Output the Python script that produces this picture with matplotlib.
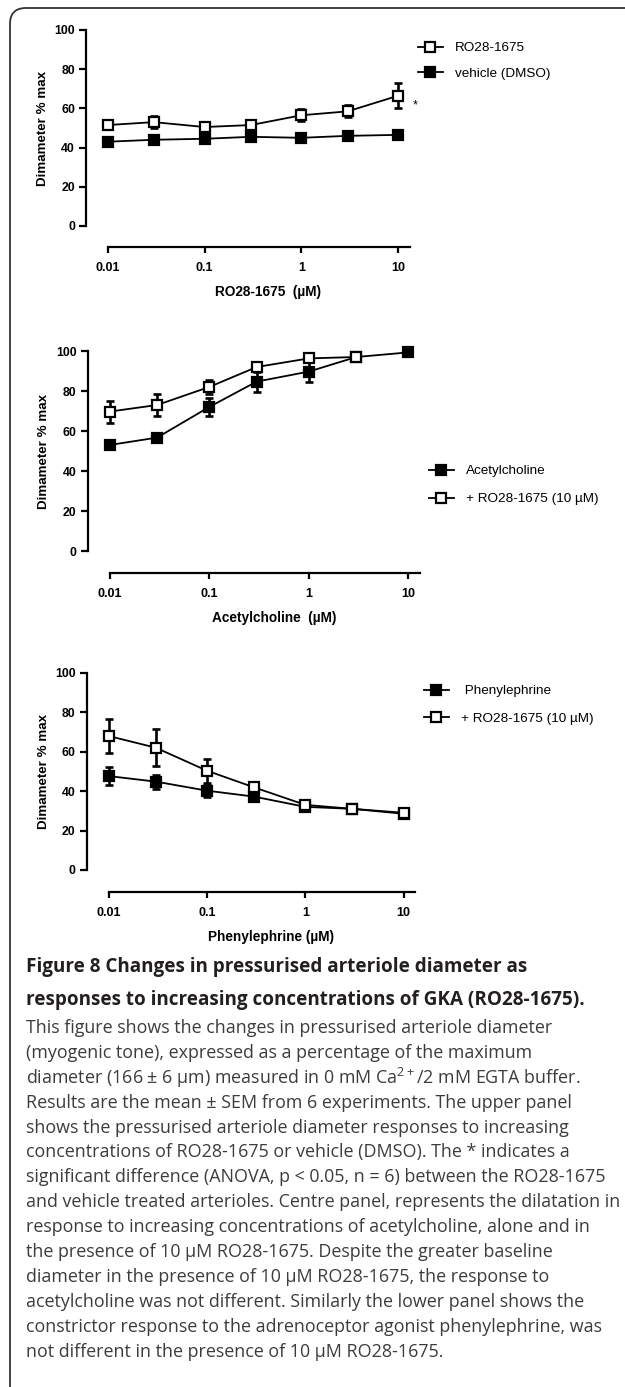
import numpy as np
import matplotlib
matplotlib.use("Agg")
from matplotlib import pyplot as plt
from matplotlib.path import Path
from matplotlib.patches import PathPatch

plt.rcParams['font.family'] = ['Liberation Sans', 'DejaVu Sans']
plt.rcParams['mathtext.fontset'] = 'custom'
plt.rcParams['mathtext.rm'] = 'Open Sans'

# concentrations (uM)
conc = [0.01, 0.03, 0.1, 0.3, 1, 3, 10]

# top panel: RO28-1675 vs vehicle
ro_mean = [51.5, 53, 50.5, 51.5, 56.5, 58.5, 66.5]
ro_sem = [1.5, 3, 2, 2, 3, 3, 6.5]
veh_mean = [43, 44, 44.5, 45.5, 45, 46, 46.5]
veh_sem = [1, 1, 1, 1, 1, 1, 2]

# centre panel: acetylcholine
ach_mean = [53, 56.7, 72, 84.7, 89.7, 97, 99.3]
ach_sem = [2, 1, 4.5, 5, 5, 1, 1]
ach_ro_conc = [0.01, 0.03, 0.1, 0.3, 1, 3]
ach_ro_mean = [69.7, 73, 82, 92, 96.3, 97]
ach_ro_sem = [5.5, 5.5, 3.5, 2, 1.5, 1]

# lower panel: phenylephrine
pe_mean = [47.6, 44.8, 40.2, 37.2, 32, 31, 28.5]
pe_sem = [4.5, 3.5, 3, 1.5, 1, 0.8, 0.8]
pe_ro_mean = [67.9, 62, 50.3, 41.9, 33, 31, 29]
pe_ro_sem = [8.4, 9.5, 6, 2, 1, 1, 1]

W, H = 625, 1387
fig = plt.figure(figsize=(W / 100, H / 100), dpi=100)


def px_axes(left, right, top, bottom):
    return fig.add_axes([left / W, 1 - bottom / H, (right - left) / W, (bottom - top) / H])


def series(ax, x, y, e, filled, label):
    ax.errorbar(x, y, yerr=e, fmt='none', ecolor='black', elinewidth=1.9,
                capsize=3, capthick=1.9, clip_on=False, zorder=3 if filled else 5)
    ln, = ax.plot(x, y, color='black', lw=1.3, marker='s', ms=6.5, mew=1.6,
                  mec='black', mfc='black' if filled else 'white',
                  clip_on=False, zorder=4 if filled else 6, label=label)
    return ln


def style(ax, xlabel, yoff, xoff, label_y):
    ax.set_xscale('log')
    ax.set_xlim(0.01, 10 ** 1.12)
    ax.set_ylim(0, 100)
    ax.set_yticks([0, 20, 40, 60, 80, 100])
    ax.set_xticks([0.01, 0.1, 1, 10])
    ax.set_xticklabels(['0.01', '0.1', '1', '10'])
    ax.minorticks_off()
    for s in ['top', 'right']:
        ax.spines[s].set_visible(False)
    ax.spines['left'].set_position(('outward', yoff))
    ax.spines['bottom'].set_position(('outward', xoff))
    ax.spines['left'].set_linewidth(1.6)
    ax.spines['bottom'].set_linewidth(1.6)
    ax.tick_params(axis='y', length=5, width=1.6, pad=3, labelsize=8.8)
    ax.tick_params(axis='x', length=4.3, width=1.6, pad=6.5, labelsize=9)
    for t in ax.get_xticklabels() + ax.get_yticklabels():
        t.set_fontweight('bold')
    ax.set_ylabel('Dimameter % max', fontsize=9.6, fontweight='bold', labelpad=4)
    ax.set_xlabel(xlabel, fontsize=9.8, fontweight='bold', va='center')
    ax.xaxis.set_label_coords(0.53, label_y)
    ax.patch.set_visible(False)


def legend(ax, handles, x, y, spacing):
    ax.legend(handles=handles, loc='upper left', bbox_to_anchor=(x / W, 1 - y / H),
              bbox_transform=fig.transFigure, frameon=False, fontsize=9.7,
              borderpad=0, borderaxespad=0, handlelength=1.85, handletextpad=0.9,
              labelspacing=spacing, numpoints=1)


# top panel
ax1 = px_axes(107.6, 410, 30, 226)
h_veh = series(ax1, conc, veh_mean, veh_sem, True, 'vehicle (DMSO)')
h_ro = series(ax1, conc, ro_mean, ro_sem, False, 'RO28-1675')
style(ax1, 'RO28-1675  (\u00b5M)', 15.5, 15.1, -0.337)
ax1.annotate('*', xy=(conc[-1], ro_mean[-1]), xytext=(12, -7), textcoords='offset points',
             fontsize=9, ha='center', va='center')
legend(ax1, [h_ro, h_veh], 418, 42, 0.95)

# centre panel
ax2 = px_axes(109.6, 420.3, 351, 551)
h_ach = series(ax2, conc, ach_mean, ach_sem, True, 'Acetylcholine')
h_ach_ro = series(ax2, ach_ro_conc, ach_ro_mean, ach_ro_sem, False, '+ RO28-1675 (10 \u00b5M)')
style(ax2, 'Acetylcholine  (\u00b5M)', 15.8, 15.8, -0.335)
legend(ax2, [h_ach, h_ach_ro], 429, 465, 1.15)

# lower panel
ax3 = px_axes(108.8, 415.5, 672.7, 870)
h_pe = series(ax3, conc, pe_mean, pe_sem, True, ' Phenylephrine')
h_pe_ro = series(ax3, conc, pe_ro_mean, pe_ro_sem, False, '+ RO28-1675 (10 \u00b5M)')
style(ax3, 'Phenylephrine (\u00b5M)', 15.8, 15.8, -0.34)
legend(ax3, [h_pe, h_pe_ro], 424, 685, 1.1)

# frame: top and left edges with rounded corner
r = 16
verts = [(W, 8), (10 + r, 8), (10, 8), (10, 8 + r), (10, H)]
verts = [(x / W, 1 - y / H) for x, y in verts]
codes = [Path.MOVETO, Path.LINETO, Path.CURVE3, Path.CURVE3, Path.LINETO]
fig.patches.append(PathPatch(Path(verts, codes), transform=fig.transFigure,
                             fill=False, lw=1.3, edgecolor='#333333'))

# caption
title = ['Figure 8 Changes in pressurised arteriole diameter as',
         'responses to increasing concentrations of GKA (RO28-1675).']
body = ['This figure shows the changes in pressurised arteriole diameter',
        '(myogenic tone), expressed as a percentage of the maximum',
        'diameter (166 \u00b1 6 \u00b5m) measured in 0 mM Ca$^{2+}$/2 mM EGTA buffer.',
        'Results are the mean \u00b1 SEM from 6 experiments. The upper panel',
        'shows the pressurised arteriole diameter responses to increasing',
        'concentrations of RO28-1675 or vehicle (DMSO). The * indicates a',
        'significant difference (ANOVA, p < 0.05, n = 6) between the RO28-1675',
        'and vehicle treated arterioles. Centre panel, represents the dilatation in',
        'response to increasing concentrations of acetylcholine, alone and in',
        'the presence of 10 \u00b5M RO28-1675. Despite the greater baseline',
        'diameter in the presence of 10 \u00b5M RO28-1675, the response to',
        'acetylcholine was not different. Similarly the lower panel shows the',
        'constrictor response to the adrenoceptor agonist phenylephrine, was',
        'not different in the presence of 10 \u00b5M RO28-1675.']
for i, line in enumerate(title):
    fig.text(26 / W, 1 - (967 + 33 * i) / H, line, fontsize=13.6, fontweight='bold',
             family=['Open Sans', 'DejaVu Sans'], color='#231f20', va='center', ha='left')
for i, line in enumerate(body):
    fig.text(26 / W, 1 - (1028 + 24.9 * i) / H, line, fontsize=12.9,
             family=['Open Sans', 'DejaVu Sans'], color='#3c3c3c', va='center', ha='left')

fig.savefig('out.png', dpi=100)
